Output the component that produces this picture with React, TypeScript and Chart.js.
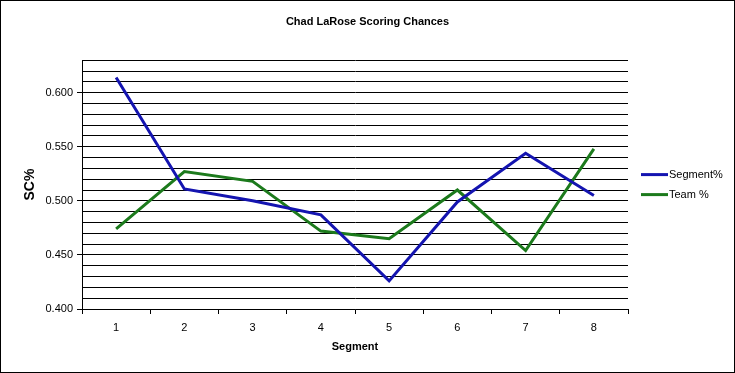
import React, { useEffect, useRef } from "react";
import { Chart, registerables } from "chart.js";

Chart.register(...registerables);

const categories = ["1", "2", "3", "4", "5", "6", "7", "8"];
const segmentPct = [0.614, 0.511, 0.500, 0.487, 0.426, 0.499, 0.544, 0.505];
const teamPct = [0.474, 0.527, 0.518, 0.472, 0.465, 0.510, 0.454, 0.548];
const seriesNames = ["Segment%", "Team %"];
const chartTitle = "Chad LaRose Scoring Chances";
const yTitle = "SC%";
const xTitle = "Segment";
const yMin = 0.4;
const yMax = 0.63;

const BLUE = "#1414B0";
const GREEN = "#1C7A1C";
const FONT = "'Liberation Sans', Arial, sans-serif";

const borderPlugin = {
  id: "outerBorder",
  afterDraw(chart: any) {
    const ctx = chart.ctx;
    ctx.save();
    ctx.strokeStyle = "#000";
    ctx.lineWidth = 1;
    ctx.strokeRect(0.5, 0.5, chart.width - 1, chart.height - 1);
    ctx.restore();
  },
};

const legendPlugin = {
  id: "excelLegend",
  afterDraw(chart: any) {
    const ctx = chart.ctx;
    const area = chart.chartArea;
    const x0 = area.right + 13;
    const cy = (area.top + area.bottom) / 2;
    const gap = 20;
    const n = chart.data.datasets.length;
    ctx.save();
    ctx.font = `11px ${FONT}`;
    ctx.textBaseline = "middle";
    ctx.textAlign = "left";
    chart.data.datasets.forEach((ds: any, i: number) => {
      const y = cy + (i - (n - 1) / 2) * gap;
      ctx.strokeStyle = ds.borderColor;
      ctx.lineWidth = 3;
      ctx.beginPath();
      ctx.moveTo(x0, y);
      ctx.lineTo(x0 + 27, y);
      ctx.stroke();
      ctx.fillStyle = "#000";
      ctx.fillText(ds.label, x0 + 28, y);
    });
    ctx.restore();
  },
};

export default function App() {
  const ref = useRef<HTMLCanvasElement | null>(null);

  useEffect(() => {
    document.body.style.margin = "0";
    const canvas = ref.current;
    if (!canvas) return;
    const chart = new Chart(canvas, {
      type: "line",
      data: {
        labels: categories,
        datasets: [
          {
            label: seriesNames[0],
            data: segmentPct,
            borderColor: BLUE,
            backgroundColor: BLUE,
            borderWidth: 3,
            pointRadius: 0,
            tension: 0,
          },
          {
            label: seriesNames[1],
            data: teamPct,
            borderColor: GREEN,
            backgroundColor: GREEN,
            borderWidth: 3,
            pointRadius: 0,
            tension: 0,
          },
        ],
      },
      options: {
        animation: false,
        responsive: false,
        devicePixelRatio: 1,
        layout: { padding: { left: 0, right: 0, top: 0, bottom: 0 } },
        plugins: {
          legend: { display: false },
          tooltip: { enabled: false },
          title: {
            display: true,
            text: chartTitle,
            color: "#000",
            font: { family: FONT, size: 11, weight: "bold", lineHeight: 1.2 },
            padding: { top: 15, bottom: 32 },
          },
        },
        scales: {
          x: {
            type: "category",
            offset: true,
            grid: {
              offset: true,
              drawOnChartArea: false,
              drawTicks: true,
              tickLength: 5,
              color: "#000",
            },
            border: { display: true, color: "#000", width: 1 },
            ticks: {
              color: "#000",
              font: { family: FONT, size: 11 },
              padding: 7,
              maxRotation: 0,
            },
            title: {
              display: true,
              text: xTitle,
              color: "#000",
              font: { family: FONT, size: 11, weight: "bold", lineHeight: 1.2 },
              padding: { top: 0, bottom: 19 },
            },
            afterFit(scale: any) {
              scale.height = 64;
            },
          },
          y: {
            min: yMin,
            max: yMax,
            grid: {
              color: "#000",
              lineWidth: 1,
              drawTicks: true,
              tickLength: 5,
              tickColor: (c: any) => (c.index % 5 === 0 ? "#000" : "rgba(0,0,0,0)"),
            },
            border: { display: true, color: "#000", width: 1 },
            ticks: {
              stepSize: 0.01,
              autoSkip: false,
              color: "#000",
              font: { family: FONT, size: 11 },
              padding: 4,
              callback: (v: any) => {
                const n = Number(v);
                const k = Math.round(n * 100);
                return k % 5 === 0 ? n.toFixed(3) : "";
              },
            },
            title: {
              display: true,
              text: yTitle,
              color: "#000",
              font: { family: FONT, size: 14, weight: "bold", lineHeight: 1.2 },
              padding: { top: 22, bottom: 0 },
            },
            afterFit(scale: any) {
              scale.width = 82;
            },
          },
          legendSpace: {
            type: "linear",
            position: "right",
            display: true,
            grid: { display: false, drawTicks: false },
            border: { display: false },
            ticks: { display: false },
            afterFit(scale: any) {
              scale.width = 107;
            },
          },
        },
      },
      plugins: [borderPlugin, legendPlugin],
    });
    return () => chart.destroy();
  }, []);

  return (
    <div style={{ position: "fixed", left: 0, top: 0, width: 735, height: 373, background: "#fff" }}>
      <canvas ref={ref} width={735} height={373} style={{ display: "block", width: 735, height: 373 }} />
    </div>
  );
}
